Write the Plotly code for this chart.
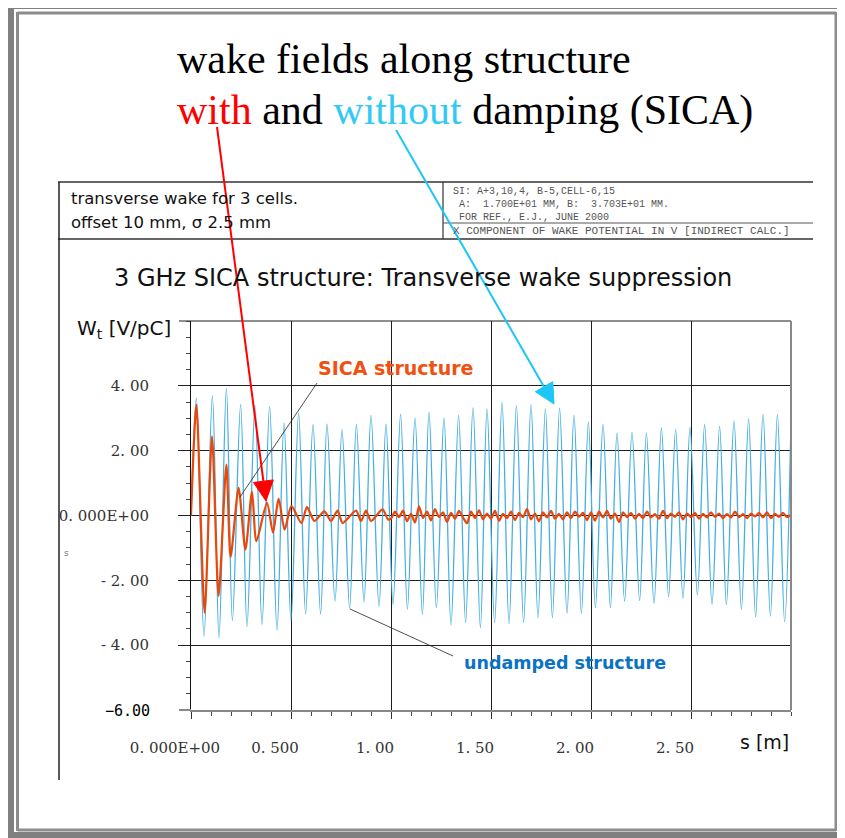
import plotly.graph_objects as go

# ---------------- data ----------------
# undamped structure: successive crests / troughs of the transverse wake
blue_s = [0.000, 0.027, 0.065, 0.107, 0.140, 0.177, 0.207, 0.248, 0.280, 0.320,
          0.355, 0.393, 0.430, 0.465, 0.500, 0.538, 0.573, 0.610, 0.648, 0.680,
          0.720, 0.755, 0.793, 0.827, 0.865, 0.900, 0.940, 0.975, 1.010, 1.048,
          1.082, 1.120, 1.157, 1.190, 1.227, 1.265, 1.300, 1.338, 1.373, 1.410,
          1.447, 1.480, 1.518, 1.555, 1.590, 1.627, 1.663, 1.700, 1.735, 1.772,
          1.807, 1.843, 1.880, 1.915, 1.952, 1.987, 2.022, 2.060, 2.097, 2.130,
          2.168, 2.205, 2.243, 2.277, 2.315, 2.352, 2.388, 2.423, 2.460, 2.495,
          2.532, 2.568, 2.605, 2.643, 2.677, 2.715, 2.752, 2.788, 2.823, 2.860,
          2.897, 2.932, 2.968, 3.000]
blue_w = [0.00, 3.62, -3.72, 3.70, -3.77, 3.93, -3.24, 3.43, -3.42, 3.39,
          -3.36, 3.36, -3.54, 2.85, -3.25, 3.16, -3.04, 2.80, -3.04, 2.82,
          -2.64, 2.65, -2.86, 2.80, -2.66, 3.09, -2.80, 2.82, -2.74, 3.13,
          -2.89, 3.00, -3.05, 3.19, -2.84, 3.00, -3.38, 3.09, -3.30, 3.33,
          -3.46, 3.29, -3.30, 3.50, -3.34, 3.39, -3.30, 3.42, -3.15, 3.29,
          -3.15, 3.31, -3.02, 3.09, -3.02, 2.88, -2.84, 2.80, -2.84, 2.54,
          -2.64, 2.57, -2.62, 2.54, -2.71, 2.70, -2.51, 2.65, -2.55, 2.72,
          -2.45, 2.80, -2.74, 2.75, -2.74, 2.92, -2.89, 2.98, -3.13, 3.13,
          -3.10, 3.11, -3.27, 2.92]

# SICA (damped) structure
sica_s = [0.000, 0.027, 0.068, 0.105, 0.138, 0.177, 0.198, 0.238, 0.272, 0.305,
          0.327, 0.380, 0.410, 0.438, 0.468, 0.502, 0.552, 0.580, 0.617, 0.667,
          0.700, 0.733, 0.758, 0.825, 0.850, 0.875, 0.900, 0.958, 0.985,
          1.00, 1.02, 1.04, 1.06, 1.08, 1.10, 1.12, 1.14, 1.16, 1.18,
          1.20, 1.22, 1.24, 1.26, 1.28, 1.30, 1.32, 1.34, 1.36, 1.38,
          1.40, 1.42, 1.44, 1.46, 1.48, 1.50, 1.52, 1.54, 1.56, 1.58,
          1.60, 1.62, 1.64, 1.66, 1.68, 1.70, 1.72, 1.74, 1.76, 1.78,
          1.80, 1.82, 1.84, 1.86, 1.88, 1.90, 1.92, 1.94, 1.96, 1.98,
          2.00, 2.02, 2.04, 2.06, 2.08, 2.10, 2.12, 2.14, 2.16, 2.18,
          2.20, 2.22, 2.24, 2.26, 2.28, 2.30, 2.32, 2.34, 2.36, 2.38,
          2.40, 2.42, 2.44, 2.46, 2.48, 2.50, 2.52, 2.54, 2.56, 2.58,
          2.60, 2.62, 2.64, 2.66, 2.68, 2.70, 2.72, 2.74, 2.76, 2.78,
          2.80, 2.82, 2.84, 2.86, 2.88, 2.90, 2.92, 2.94, 2.96, 2.98, 3.00]
sica_w = [0.00, 3.42, -3.00, 2.44, -2.48, 1.57, -1.28, 0.85, -1.05, 0.73,
          -0.79, 0.39, -0.53, 0.52, -0.44, 0.29, -0.23, 0.26, -0.17, 0.13,
          -0.17, 0.15, -0.23, 0.15, -0.17, 0.15, -0.17, 0.19, -0.12,
          -0.10, 0.12, -0.05, 0.15, -0.18, 0.05, -0.22, 0.28, -0.08, 0.12,
          -0.15, 0.20, -0.05, 0.10, -0.20, 0.08, -0.10, 0.14, -0.06, -0.24,
          0.12, -0.08, 0.16, -0.12, 0.06, -0.10, 0.14, -0.16, 0.05, -0.08,
          0.12, -0.14, 0.08, -0.05, 0.20, -0.12, 0.06, -0.18, 0.10, -0.06,
          0.14, -0.10, 0.05, -0.12, 0.10, -0.08, 0.12, -0.04, 0.08, -0.14,
          0.10, -0.16, 0.12, -0.06, 0.14, -0.10, 0.06, -0.20, 0.10, -0.05,
          0.08, -0.10, 0.05, -0.08, 0.12, -0.06, 0.04, -0.10, 0.14, -0.08,
          0.06, -0.04, 0.10, -0.12, 0.06, -0.05, 0.08, -0.10, 0.05, -0.06,
          0.10, -0.04, 0.06, -0.08, 0.04, -0.06, 0.12, -0.05, 0.04, -0.08,
          0.06, -0.03, 0.08, -0.06, 0.10, -0.08, 0.05, -0.04, 0.08, -0.05, 0.02]

x_tickvals = [0.0, 0.5, 1.0, 1.5, 2.0, 2.5]
x_ticktext = ["0. 000E+00", "0. 500", "1. 00", "1. 50", "2. 00", "2. 50"]
y_tickvals = [-4, -2, 0, 2, 4]
y_ticktext = ["- 4. 00", "- 2. 00", "0. 000E+00", "2. 00", "4. 00"]
y_bottom_label = "\u22126.00"

# ---------------- geometry helpers (page pixel -> paper) ----------------
OFF = 8                      # default body margin of the page
FW, FH = 845 - OFF, 838 - OFF
L, R, T, B = 191, 791, 321, 710   # plot area in page pixels


def PX(x):
    return (x - L) / (R - L)


def PY(y):
    return (B - y) / (B - T)


fig = go.Figure()
fig.add_trace(go.Scatter(x=blue_s, y=blue_w, mode="lines",
                         line=dict(color="#45afe2", width=1.3, shape="spline", smoothing=1.0),
                         hoverinfo="skip", showlegend=False))
fig.add_trace(go.Scatter(x=sica_s, y=sica_w, mode="lines",
                         line=dict(color="#e9480c", width=2.2, shape="spline", smoothing=0.7),
                         hoverinfo="skip", showlegend=False))

shapes = []


def seg(x0, y0, x1, y1, color, width, layer="above"):
    shapes.append(dict(type="line", xref="paper", yref="paper",
                       x0=PX(x0), y0=PY(y0), x1=PX(x1), y1=PY(y1),
                       line=dict(color=color, width=width), layer=layer))


def tri(pts, color):
    p = "M " + " L ".join(f"{PX(a)},{PY(b)}" for a, b in pts) + " Z"
    shapes.append(dict(type="path", xref="paper", yref="paper", path=p,
                       fillcolor=color, line=dict(color=color, width=1), layer="above"))


# slide frame
seg(10.5, 5.5, 843, 5.5, "#808080", 7)
seg(10.5, 835, 843, 835, "#808080", 6)
seg(10.5, 2, 10.5, 838, "#808080", 7)
seg(842.5, 2, 842.5, 838, "#808080", 5)
seg(17.5, 13, 836, 13, "#8c8c8c", 3)
seg(17.5, 830, 836, 830, "#8c8c8c", 3)
seg(17.5, 12, 17.5, 831, "#8c8c8c", 3)
seg(836, 12, 836, 831, "#8c8c8c", 3)

# header box of the plot picture
seg(58, 182, 813, 182, "#333333", 1.5)
seg(58, 239, 813, 239, "#333333", 1.5)
seg(443, 182, 443, 239, "#333333", 1.2)
seg(443, 223, 813, 223, "#555555", 1)
seg(59, 182, 59, 780, "#222222", 1.5)

# plot borders not covered by the grid
seg(179, 321, 791, 321, "#1e1e1e", 1, layer="below")
seg(179, 710, 191, 710, "#888888", 2)
seg(791, 321, 791, 710, "#888888", 2)

# leader lines
seg(317, 383, 240, 497, "#222222", 0.8)
seg(350, 609, 453, 656, "#222222", 0.8)

# red arrow
seg(217, 127, 263.4, 481.2, "#ff0000", 2)
tri([(273.3, 479.9), (253.5, 482.5), (266, 501)], "#ff0000")
# cyan arrow
seg(396, 130, 544, 386.7, "#1cc6f5", 2)
tri([(552.7, 381.7), (535.3, 391.7), (554, 404)], "#1cc6f5")

annotations = []


def txt(x, y, text, size, color="#000", family="DejaVu Sans", xanchor="left"):
    annotations.append(dict(xref="paper", yref="paper", x=PX(x), y=PY(y), text=text,
                            showarrow=False, xanchor=xanchor, yanchor="middle",
                            font=dict(size=size, color=color, family=family)))


serif = "Liberation Serif"
txt(175, 59, "wake fields along structure", 42, family=serif)
txt(175, 110, "<span style='color:#ff0000'>with</span> and "
              "<span style='color:#33c9f5'>without</span> damping (SICA)", 42, family=serif)

txt(69, 198, "transverse wake for 3 cells.", 16.5, "#111")
txt(69, 222, "offset 10 mm, \u03c3 2.5 mm", 16.5, "#111")
mono = "Liberation Mono"
txt(451, 192, "SI: A+3,10,4, B-5,CELL-6,15", 10, "#555", mono)
txt(451, 205, " A:  1.700E+01 MM, B:  3.703E+01 MM.", 10, "#555", mono)
txt(451, 217, " FOR REF., E.J., JUNE 2000", 10, "#555", mono)
txt(451, 231, "X COMPONENT OF WAKE POTENTIAL IN V [INDIRECT CALC.]", 11, "#555", mono)

txt(112, 278, "3 GHz SICA structure: Transverse wake suppression", 24, "#111")
txt(75, 329, "W<sub>t</sub> [V/pC]", 20, "#111")
txt(738, 742, "s [m]", 19, "#111")
txt(316, 368, "<b>SICA structure</b>", 19, "#f05010")
txt(462, 663, "<b>undamped structure</b>", 17.5, "#0a72c4")
txt(62, 553, "s", 9, "#777")
txt(152, 711, y_bottom_label, 15, "#000", "DejaVu Sans Mono", xanchor="right")

fig.update_layout(
    width=FW, height=FH,
    margin=dict(l=L - OFF, r=OFF + FW - R, t=T - OFF, b=OFF + FH - B, pad=0),
    paper_bgcolor="white", plot_bgcolor="white",
    showlegend=False,
    shapes=shapes, annotations=annotations,
    xaxis=dict(range=[0, 3], tickmode="array", tickvals=x_tickvals, ticktext=x_ticktext,
               showgrid=True, gridcolor="#1e1e1e", gridwidth=1, zeroline=False,
               showline=True, linecolor="#888888", linewidth=2,
               ticks="outside", ticklen=7, tickwidth=1, tickcolor="#333",
               tickfont=dict(family="DejaVu Serif", size=15, color="#333"),
               ticklabelshift=-16, ticklabelstandoff=16,
               minor=dict(tickmode="linear", tick0=0, dtick=0.1, ticks="outside",
                          ticklen=4, tickcolor="#444", showgrid=False),
               fixedrange=True),
    yaxis=dict(range=[-6, 6], tickmode="array", tickvals=y_tickvals, ticktext=y_ticktext,
               showgrid=True, gridcolor="#1e1e1e", gridwidth=1, zeroline=False,
               showline=True, linecolor="#111", linewidth=1,
               ticks="outside", ticklen=12, tickwidth=1, tickcolor="#222",
               tickfont=dict(family="DejaVu Serif", size=15, color="#333"),
               ticklabelstandoff=26,
               minor=dict(tickmode="linear", tick0=0, dtick=0.5, ticks="outside",
                          ticklen=4, tickcolor="#444", showgrid=False),
               fixedrange=True),
)

fig.write_html("out.html")
